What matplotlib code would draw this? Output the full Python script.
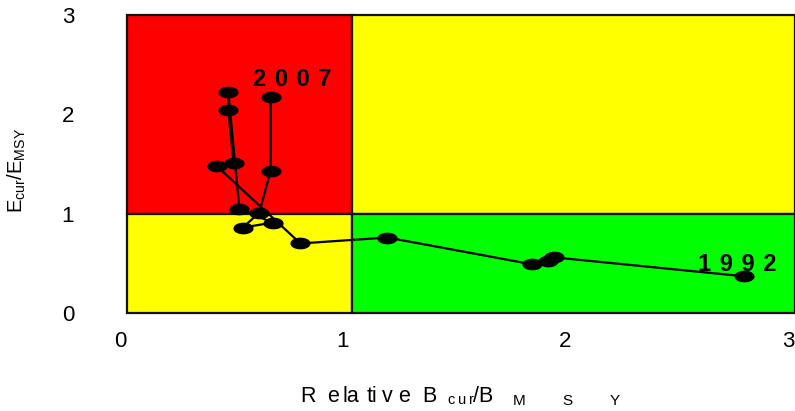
import numpy as np
import matplotlib
matplotlib.use("Agg")
import matplotlib.pyplot as plt
from matplotlib.path import Path
from matplotlib.patches import Rectangle

plt.rcParams['font.family'] = ['Liberation Sans', 'DejaVu Sans']
plt.rcParams['mathtext.fontset'] = 'custom'
plt.rcParams['mathtext.rm'] = 'Liberation Sans'
plt.rcParams['mathtext.it'] = 'Liberation Sans'

FONT = ['Liberation Sans', 'DejaVu Sans']

# Data (1992 -> 2007)
years = list(range(1992, 2008))
b_rel = [2.80, 1.95, 1.92, 1.85, 1.20, 0.81, 0.434, 0.51, 0.486, 0.486,
         0.536, 0.685, 0.551, 0.625, 0.676, 0.676]
e_rel = [0.37, 0.56, 0.52, 0.49, 0.76, 0.70, 1.48, 1.51, 2.04, 2.22,
         1.05, 0.91, 0.86, 1.01, 1.43, 2.17]
x_ticks = [0, 1, 2, 3]
y_ticks = [0, 1, 2, 3]
x_ref = 1.04   # B/BMSY reference line
y_ref = 1.0    # E/EMSY reference line
x_lo, x_hi = 0.03, 3.03

W, H = 795, 411
fig = plt.figure(figsize=(W / 100, H / 100), dpi=100)
ax = fig.add_axes([120 / W, 98 / H, 675 / W, 298 / H])
ax.set_xlim(0, x_hi)
ax.set_ylim(0, 3)
for s in ax.spines.values():
    s.set_visible(False)

# quadrant backgrounds
quads = [
    (x_lo, y_ref, x_ref - x_lo, 3 - y_ref, '#FF0000'),
    (x_ref, y_ref, x_hi - x_ref, 3 - y_ref, '#FFFF00'),
    (x_lo, 0, x_ref - x_lo, y_ref, '#FFFF00'),
    (x_ref, 0, x_hi - x_ref, y_ref, '#00FF00'),
]
for x0, y0, w, h, c in quads:
    ax.add_patch(Rectangle((x0, y0), w, h, facecolor=c, edgecolor='#111111',
                           linewidth=1.6, zorder=1, clip_on=False))

# ellipse marker
t = np.linspace(0, 2 * np.pi, 60)
ell = Path(np.column_stack([np.cos(t), 0.55 * np.sin(t)]), closed=True)

ax.plot(b_rel, e_rel, color='black', linewidth=1.6, zorder=3)
ax.plot(b_rel, e_rel, linestyle='none', marker=ell, markersize=13.5,
        color='black', zorder=4)

sp = '\u200a '
ax.text(2.77, 0.49, sp.join(str(years[0])), fontsize=17, fontweight='bold',
        ha='center', va='center', zorder=5)
ax.text(0.772, 2.35, sp.join(str(years[-1])), fontsize=17, fontweight='bold',
        ha='center', va='center', zorder=5)

ax.set_xticks(x_ticks)
ax.set_yticks(y_ticks)
ax.set_xticklabels([str(v) for v in x_ticks], fontsize=16)
ax.set_yticklabels([str(v) for v in y_ticks], fontsize=16)
ax.tick_params(axis='x', length=0, pad=13)
ax.tick_params(axis='y', length=0, pad=33)


def ftext(s, px, py, size, **kw):
    fig.text(px / W, 1 - py / H, s, fontsize=size, family=FONT,
             ha='left', va='baseline', **kw)


# x-axis title pieces: "Relative B_cur/B_MSY" (letter-spaced as in the original)
for piece, px in zip(['R', 'e', 'la', 'ti', 'v', 'e', 'B'],
                     [300, 327, 343, 367, 382, 398, 422]):
    ftext(piece, px, 402, 15.5)
for ch, px in zip('cur', [447, 458, 469]):
    ftext(ch, px, 404, 10.5)
ftext('/B', 473, 402, 15.5)
for ch, px in zip('MSY', [513, 562, 610]):
    ftext(ch, px, 405, 11)

fig.text(17 / W, 1 - 170 / H, r'E$_{\mathrm{cur}}$/E$_{\mathrm{MSY}}$',
         fontsize=14.5, rotation=90, ha='center', va='center')

fig.savefig('out.png', dpi=100)
